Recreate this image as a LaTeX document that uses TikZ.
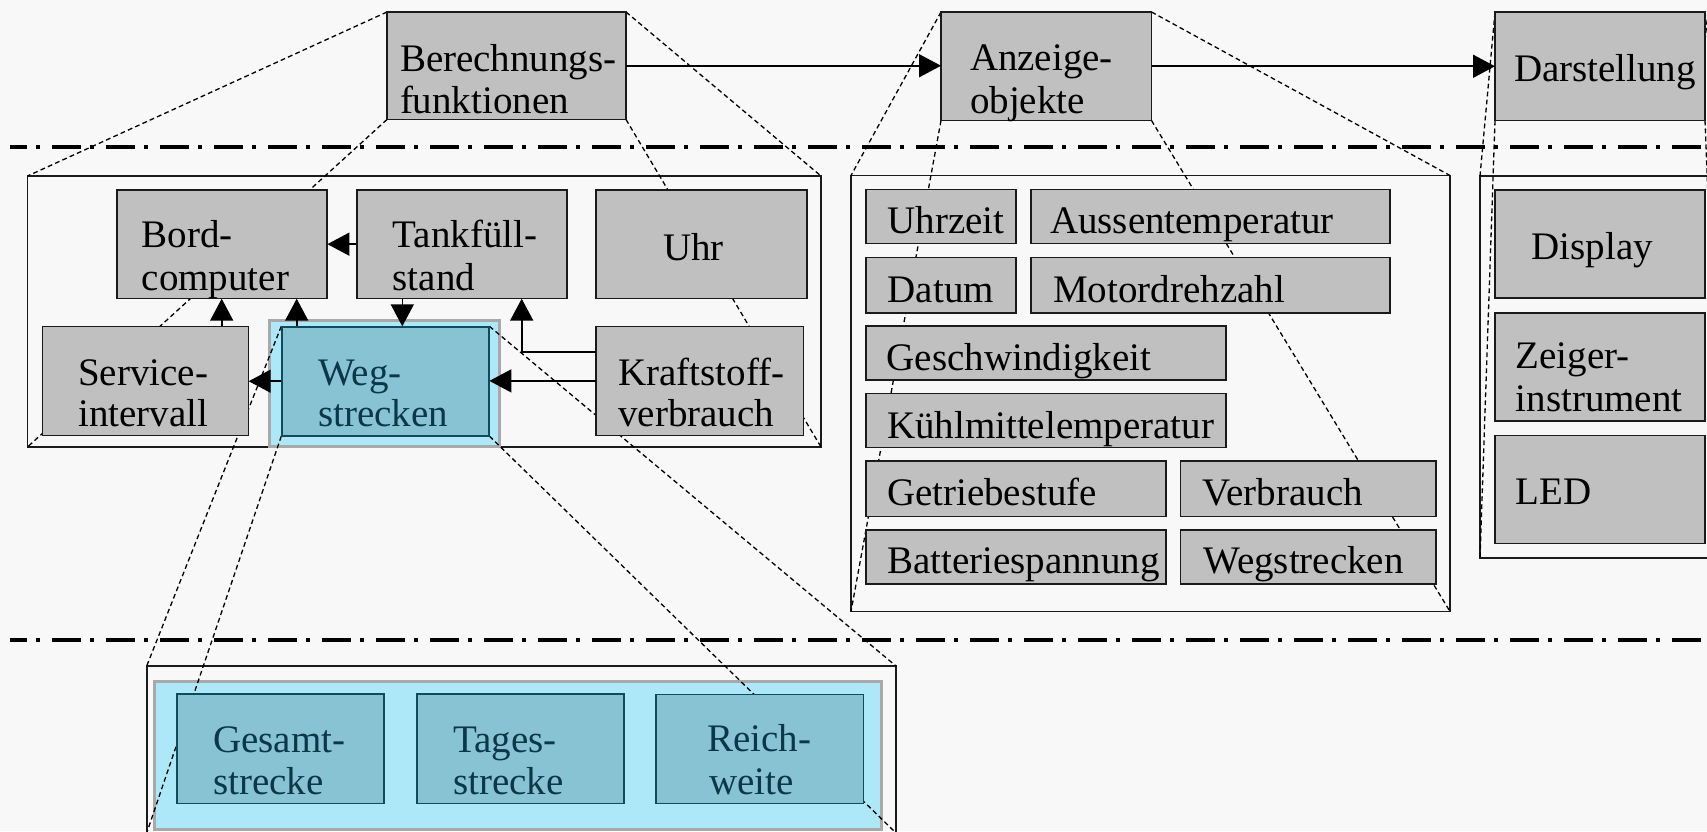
\documentclass[tikz,border=0pt]{standalone}
\usepackage{fontspec}
\setmainfont{Liberation Serif}
\usetikzlibrary{fit,arrows.meta}

\definecolor{paper}{HTML}{F8F8F8}
\definecolor{boxgray}{HTML}{C0C0C0}
\definecolor{ink}{HTML}{1A1A1A}
\definecolor{tealfill}{HTML}{88C3D3}
\definecolor{tealedge}{HTML}{0E4C5C}
\definecolor{tealtext}{HTML}{0A3848}
\definecolor{cyanfill}{HTML}{ACE8F8}
\definecolor{rimgray}{HTML}{A9A9A9}

\begin{document}
\begin{tikzpicture}[x=0.5pt,y=-0.5pt,
  grayblock/.style={draw=ink,fill=boxgray,line width=0.8pt,inner sep=0pt,outer sep=0pt},
  tealblock/.style={draw=tealedge,fill=tealfill,line width=0.8pt,inner sep=0pt,outer sep=0pt},
  cyanpanel/.style={draw=rimgray,fill=cyanfill,line width=1.6pt,inner sep=0pt,outer sep=0pt},
  outline/.style={draw=ink,line width=0.8pt,inner sep=0pt,outer sep=0pt},
  zoomline/.style={draw=black,line width=0.65pt,dash pattern=on 2.4pt off 1.6pt},
  sepline/.style={draw=black,line width=1.9pt,dash pattern=on 14.5pt off 4.5pt on 2.2pt off 5.8pt,dash phase=6.1pt},
  flow/.style={draw=black,line width=0.8pt,-{Triangle[length=11pt,width=11.5pt]}},
  lbl/.style={anchor=base west,inner sep=0pt,outer sep=0pt,font=\fontsize{19.5}{21}\selectfont,text=black},
  tlbl/.style={lbl,text=tealtext}]

\useasboundingbox (0,0) rectangle (1707,831);
\fill[paper] (0,0) rectangle (1707,831);
\begin{scope}
\clip (0,0) rectangle (1707,831);

% --- top level ---
\node[grayblock,fit={(387,12) (626,119.5)}] (berech) {};
\node[grayblock,fit={(941,12) (1151.5,120.5)}] (anz) {};
\node[grayblock,fit={(1495,12) (1705,120.5)}] (darst) {};

% --- expansion frames ---
\node[outline,fit={(27.5,176) (821,447)}] (frameL) {};
\node[outline,fit={(851,175.5) (1450,611.5)}] (frameM) {};
\node[outline,fit={(1480,176) (1722,558)}] (frameR) {};
\node[outline,fit={(146.7,666) (896,833)}] (frameB) {};

% highlighted panels
\node[cyanpanel,fit={(269.2,320.5) (499.5,446.2)}] (wegpanel) {};
\node[cyanpanel,fit={(154.8,681.5) (881.8,829.5)}] (detailpanel) {};

% --- inner blocks (defined first, painted later) ---
\path
  node[fit={(117,190) (327,298.3)},inner sep=0pt] (bord) {}
  node[fit={(356.7,190) (566.7,298.3)},inner sep=0pt] (tank) {}
  node[fit={(596,190) (806.7,298.3)},inner sep=0pt] (uhr) {}
  node[fit={(42.3,326.5) (248.3,435.3)},inner sep=0pt] (serv) {}
  node[fit={(281.7,326.7) (489,435.7)},inner sep=0pt] (weg) {}
  node[fit={(596,326.3) (803.3,435.5)},inner sep=0pt] (kraft) {};

% --- projection lines ---
\draw[zoomline] (berech.north west) -- (frameL.north west);
\draw[zoomline] (berech.north east) -- (frameL.north east);
\draw[zoomline] (berech.south west) -- (frameL.south west);
\draw[zoomline] (berech.south east) -- (frameL.south east);
\draw[zoomline] (anz.north west) -- (frameM.north west);
\draw[zoomline] (anz.north east) -- (frameM.north east);
\draw[zoomline] (anz.south west) -- (frameM.south west);
\draw[zoomline] (anz.south east) -- (frameM.south east);
\draw[zoomline] (darst.north west) -- (frameR.north west);
\draw[zoomline] (darst.north east) -- (frameR.north east);
\draw[zoomline] (darst.south west) -- (frameR.south west);
\draw[zoomline] (darst.south east) -- (frameR.south east);
\draw[zoomline] (weg.north west) -- (frameB.north west);
\draw[zoomline] (weg.north east) -- (frameB.north east);
\draw[zoomline] (weg.south west) -- (frameB.south west);
\draw[zoomline] (weg.south east) -- (frameB.south east);

% --- level separators ---
\draw[sepline] (10,146.7) -- (1707,146.7);
\draw[sepline] (10,640) -- (1707,640);

% --- top level repainted over the lines ---
\node[grayblock,fit={(387,12) (626,119.5)}] (berechtop) {};
\node[grayblock,fit={(941,12) (1151.5,120.5)}] (anztop) {};
\node[grayblock,fit={(1495,12) (1705,120.5)}] (darsttop) {};

% --- Berechnungsfunktionen blocks ---
\node[grayblock,fit={(117,190) (327,298.3)}] (bordbox) {};
\node[grayblock,fit={(356.7,190) (566.7,298.3)}] (tankbox) {};
\node[grayblock,fit={(596,190) (806.7,298.3)}] (uhrbox) {};
\node[grayblock,fit={(42.3,326.5) (248.3,435.3)}] (servbox) {};
\node[tealblock,fit={(281.7,326.7) (489,435.7)}] (wegbox) {};
\node[grayblock,fit={(596,326.3) (803.3,435.5)}] (kraftbox) {};

% --- Anzeigeobjekte blocks ---
\node[grayblock,fit={(866,189.5) (1016,243.3)}] (uhrzeit) {};
\node[grayblock,fit={(1030.7,189.5) (1390,243.3)}] (aussen) {};
\node[grayblock,fit={(866,257.3) (1016,312.7)}] (datum) {};
\node[grayblock,fit={(1030.7,257.3) (1390,312.7)}] (motor) {};
\node[grayblock,fit={(866,326) (1226,380)}] (gesch) {};
\node[grayblock,fit={(866,393.3) (1226,447.3)}] (kuehl) {};
\node[grayblock,fit={(866,461) (1166,516.3)}] (getr) {};
\node[grayblock,fit={(1180.3,461) (1436,516.3)}] (verbr) {};
\node[grayblock,fit={(866,530) (1166,584)}] (batt) {};
\node[grayblock,fit={(1180.3,530) (1436,584)}] (wegst) {};

% --- Darstellung blocks ---
\node[grayblock,fit={(1495,190) (1705,297.7)}] (display) {};
\node[grayblock,fit={(1495,313) (1705,421)}] (zeiger) {};
\node[grayblock,fit={(1495,435.5) (1705,543.4)}] (led) {};

% --- Wegstrecken detail blocks ---
\node[tealblock,fit={(176.7,694) (384,803.3)}] (gesamt) {};
\node[tealblock,fit={(416.7,694) (624,803.3)}] (tages) {};
\node[tealblock,fit={(656,694.3) (863.3,803.3)}] (reich) {};

% --- data flow ---
\coordinate (xserv) at (221.7,0);
\coordinate (xweg) at (296.7,0);
\coordinate (xtank) at (402.3,0);
\coordinate (kbend) at (521.7,351.7);
\draw[flow] (berech.east) -- (berech.east -| anz.west);
\draw[flow] (anz.east) -- (anz.east -| darst.west);
\draw[flow] (tank.west) -- (tank.west -| bord.east);
\draw[flow] (serv.north -| xserv) -- (bord.south -| xserv);
\draw[flow] (weg.north -| xweg) -- (bord.south -| xweg);
\draw[flow] (tank.south -| xtank) -- (weg.north -| xtank);
\draw[flow] (kraft.west |- kbend) -| (tank.south -| kbend);
\draw[flow] (kraft.west) -- (kraft.west -| weg.east);
\draw[flow] (weg.west) -- (weg.west -| serv.east);

% --- texts ---
\node[lbl] (t-berech1) at (400,71) {Berechnungs-};
\node[lbl] (t-berech2) at (400,113.3) {funktionen};
\node[lbl] (t-anz1) at (970,70.7) {Anzeige-};
\node[lbl] (t-anz2) at (970,113.3) {objekte};
\node[lbl] (t-darst) at (1514,81) {Darstellung};

\node[lbl] (t-bord1) at (141.7,247.7) {Bord-};
\node[lbl] (t-bord2) at (141.7,290) {computer};
\node[lbl] (t-tank1) at (392.7,247.7) {Tankfüll-};
\node[lbl] (t-tank2) at (392.7,290) {stand};
\node[lbl] (t-uhr) at (663.3,260) {Uhr};
\node[lbl] (t-serv1) at (78.3,385) {Service-};
\node[lbl] (t-serv2) at (78.3,426.7) {intervall};
\node[tlbl] (t-weg1) at (318.3,385) {Weg-};
\node[tlbl] (t-weg2) at (318.3,426.7) {strecken};
\node[lbl] (t-kraft1) at (618.3,385) {Kraftstoff-};
\node[lbl] (t-kraft2) at (618.3,426) {verbrauch};

\node[lbl] (t-uhrzeit) at (887.7,233.3) {Uhrzeit};
\node[lbl] (t-aussen) at (1050,233.3) {Aussentemperatur};
\node[lbl] (t-datum) at (887.7,302.7) {Datum};
\node[lbl] (t-motor) at (1053.3,302.7) {Motordrehzahl};
\node[lbl] (t-gesch) at (886.7,370) {Geschwindigkeit};
\node[lbl] (t-kuehl) at (887,438.3) {Kühlmittelemperatur};
\node[lbl] (t-getr) at (887,505) {Getriebestufe};
\node[lbl] (t-verbr) at (1202.7,505) {Verbrauch};
\node[lbl] (t-batt) at (887,573.3) {Batteriespannung};
\node[lbl] (t-wegst) at (1203.3,573.3) {Wegstrecken};

\node[lbl] (t-display) at (1531.7,259.5) {Display};
\node[lbl] (t-zeiger1) at (1515.7,368) {Zeiger-};
\node[lbl] (t-zeiger2) at (1515.7,411.4) {instrument};
\node[lbl] (t-led) at (1515.7,504.4) {LED};

\node[tlbl] (t-gesamt1) at (213.3,752.7) {Gesamt-};
\node[tlbl] (t-gesamt2) at (213.3,794.3) {strecke};
\node[tlbl] (t-tages1) at (453.3,752.7) {Tages-};
\node[tlbl] (t-tages2) at (453.3,794.3) {strecke};
\node[tlbl] (t-reich1) at (707.3,751.7) {Reich-};
\node[tlbl] (t-reich2) at (709.3,794) {weite};
\end{scope}
\end{tikzpicture}
\end{document}
